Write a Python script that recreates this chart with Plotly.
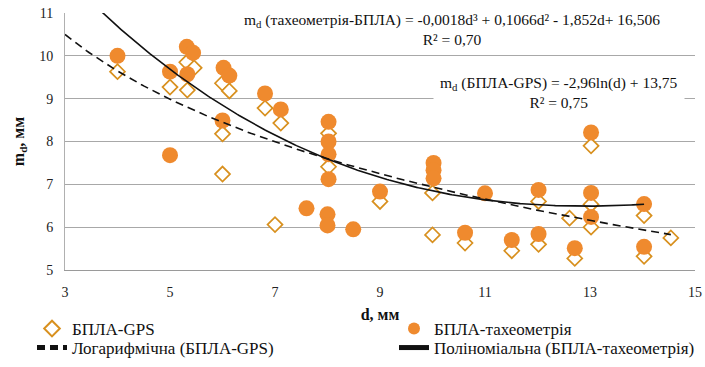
import numpy as np
import plotly.graph_objects as go

# ---- data ----
gps_d = [4.0, 5.0, 5.33, 5.32, 5.46, 6.0, 6.13, 6.0, 6.0, 6.81, 7.11, 7.0, 8.02, 8.02, 9.0,
         10.0, 10.0, 10.62, 11.51, 12.02, 12.02, 12.61, 12.71, 13.02, 13.02, 13.02, 14.03, 14.03, 14.54]
gps_m = [9.63, 9.27, 9.2, 9.85, 9.72, 9.36, 9.18, 8.18, 7.24, 8.78, 8.43, 6.06, 8.19, 7.41, 6.6,
         6.8, 5.82, 5.63, 5.45, 6.6, 5.6, 6.21, 5.27, 7.9, 6.53, 6.0, 6.27, 5.32, 5.75]

tach_d = [4.0, 5.0, 5.0, 5.32, 5.44, 5.33, 6.02, 6.13, 6.0, 6.81, 7.11, 7.6, 8.02, 8.02, 8.02, 8.02,
          8.0, 8.0, 8.49, 9.0, 10.02, 10.02, 10.02, 10.62, 11.0, 11.51, 12.02, 12.02, 12.71,
          13.02, 13.02, 13.02, 14.03, 14.03]
tach_m = [10.0, 9.63, 7.68, 10.21, 10.07, 9.57, 9.72, 9.54, 8.49, 9.12, 8.75, 6.44, 8.46, 8.0, 7.7, 7.12,
          6.3, 6.04, 5.95, 6.83, 7.5, 7.33, 7.14, 5.87, 6.79, 5.7, 6.87, 5.84, 5.51,
          8.21, 6.8, 6.24, 6.54, 5.54]

# trendline coefficients as printed on the chart
log_coef = [-2.96, 13.75]                       # m = a*ln(d) + b
poly_coef = [-0.0018, 0.1066, -1.852, 16.506]   # cubic

x_ticks = [3, 5, 7, 9, 11, 13, 15]
y_ticks = [5, 6, 7, 8, 9, 10, 11]

eq_poly = "m<sub>d</sub> (тахеометрія-БПЛА) = -0,0018d³ + 0,1066d² - 1,852d+ 16,506"
r2_poly = "R² = 0,70"
eq_log = "m<sub>d</sub> (БПЛА-GPS) = -2,96ln(d) + 13,75"
r2_log = "R² = 0,75"

SERIF = "Liberation Serif, Times New Roman, serif"
ORANGE = "#EF8A2E"
DIAM = "#D8901E"

L, R, T, B = 65, 10, 13, 97
W, H = 705, 367
PW, PH = W - L - R, H - T - B


def px_x(p):
    return (p - L) / PW


def px_y(p):
    return (H - B - p) / PH


fig = go.Figure()

fig.add_trace(go.Scatter(
    x=gps_d, y=gps_m, mode="markers", name="БПЛА-GPS",
    marker=dict(symbol="diamond", size=11.5, color="white",
                line=dict(color=DIAM, width=1.7)),
    legend="legend", legendwidth=317))

fig.add_trace(go.Scatter(
    x=tach_d, y=tach_m, mode="markers", name="БПЛА-тахеометрія",
    marker=dict(symbol="circle", size=16, color=ORANGE, line=dict(width=0)),
    legend="legend"))

xl = np.linspace(3, max(gps_d), 200)
yl = log_coef[0] * np.log(xl) + log_coef[1]
fig.add_trace(go.Scatter(
    x=xl, y=yl, mode="lines", name="Логарифмічна (БПЛА-GPS)",
    line=dict(color="#111111", width=1.6, dash="8px,5px"),
    legend="legend2", legendwidth=317))

xp = np.linspace(3.5, max(tach_d), 300)
yp = np.polyval(poly_coef, xp)
fig.add_trace(go.Scatter(
    x=xp, y=yp, mode="lines", name="Поліноміальна (БПЛА-тахеометрія)",
    line=dict(color="#111111", width=1.6),
    legend="legend2"))

fig.add_annotation(xref="paper", yref="paper", x=px_x(452), y=px_y(30),
                   text=eq_poly + "<br>" + r2_poly, showarrow=False,
                   font=dict(family=SERIF, size=15.5, color="#111"),
                   bgcolor="white", borderpad=6, align="center",
                   xanchor="center", yanchor="middle")
fig.add_annotation(xref="paper", yref="paper", x=px_x(559), y=px_y(92),
                   text=eq_log + "<br>" + r2_log, showarrow=False,
                   font=dict(family=SERIF, size=15.5, color="#111"),
                   bgcolor="white", borderpad=6, align="center",
                   xanchor="center", yanchor="middle")

leg_common = dict(orientation="h", xanchor="left", yanchor="middle",
                  entrywidthmode="pixels", itemsizing="constant",
                  font=dict(family=SERIF, size=17, color="#111"),
                  bgcolor="rgba(0,0,0,0)")

fig.update_layout(
    width=W, height=H,
    margin=dict(l=L, r=R, t=T, b=B, autoexpand=False),
    paper_bgcolor="white", plot_bgcolor="white",
    font=dict(family=SERIF, color="#111"),
    showlegend=True,
    legend=dict(x=px_x(32), y=px_y(329), **leg_common),
    legend2=dict(x=px_x(32), y=px_y(348), **leg_common),
    xaxis=dict(range=[3, 15], tickvals=x_ticks, ticktext=[str(v) for v in x_ticks],
               showgrid=False, zeroline=False, showline=True, linecolor="#9a9a9a", linewidth=1,
               ticks="", ticklabelstandoff=9,
               tickfont=dict(family=SERIF, size=14, color="#222"),
               title=dict(text="d, мм", font=dict(family=SERIF, size=16, color="#111", weight="bold"),
                          standoff=10)),
    yaxis=dict(range=[5, 11], tickvals=y_ticks, ticktext=[str(v) for v in y_ticks],
               showgrid=True, gridcolor="#a8a8a8", gridwidth=1, zeroline=False,
               showline=True, linecolor="#b0b0b0", linewidth=1,
               ticks="", ticklabelstandoff=8,
               tickfont=dict(family=SERIF, size=14, color="#222"),
               title=dict(text="m<sub>d</sub>, мм", font=dict(family=SERIF, size=16, color="#111", weight="bold"),
                          standoff=10)),
)

fig.write_html("out.html")
